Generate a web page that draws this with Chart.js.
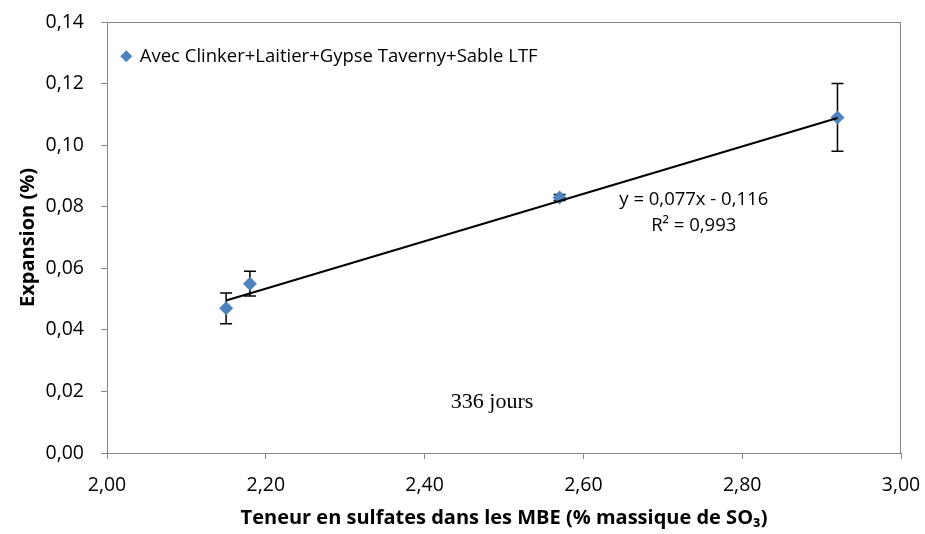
<!DOCTYPE html>
<html>
<head>
<meta charset="utf-8">
<script src="https://cdn.jsdelivr.net/npm/chart.js@4/dist/chart.umd.min.js"></script>
<style>
  html, body { margin: 0; padding: 0; background: #fff; }
  #wrap { width: 925px; height: 534px; }
</style>
</head>
<body>
<div id="wrap"><canvas id="grafico" width="925" height="534"></canvas></div>
<script>
// donnees : teneur en SO3 et expansion a 336 jours
const sulfates = [2.15, 2.18, 2.57, 2.92];
const expansion = [0.047, 0.055, 0.083, 0.109];
const ecart = [0.005, 0.004, 0.001, 0.011];
const serie = 'Avec Clinker+Laitier+Gypse Taverny+Sable LTF';

// droite de tendance
const pente = 0.077;
const ordonnee = -0.116;
const r2 = 0.993;

// axes
const xMin = 2, xMax = 3, xPas = 0.2;
const yMin = 0, yMax = 0.14, yPas = 0.02;

const police = "'Open Sans', sans-serif";
const gris = '#868686';
const bleu = '#4F81BD';

const virgule = (v, n) => v.toFixed(n).replace('.', ',');

const points = sulfates.map((x, i) => ({ x: x, y: expansion[i] }));
const xDeb = Math.min(...sulfates), xFin = Math.max(...sulfates);
const tendance = [xDeb, xFin].map(x => ({ x: x, y: pente * x + ordonnee }));

const equation = 'y = ' + virgule(pente, 3) + 'x ' + (ordonnee < 0 ? '- ' : '+ ') + virgule(Math.abs(ordonnee), 3);
const coefR2 = 'R\u00B2 = ' + virgule(r2, 3);

// cadre + barres d'erreur
const cadre = {
  id: 'cadre',
  beforeDatasetsDraw(chart) {
    const { ctx, chartArea: a, scales } = chart;
    ctx.save();
    ctx.strokeStyle = gris;
    ctx.lineWidth = 1;
    ctx.strokeRect(a.left + 0.5, a.top + 0.5, a.right - a.left - 1, a.bottom - a.top);
    ctx.strokeStyle = '#000';
    ctx.lineWidth = 1.5;
    sulfates.forEach((x, i) => {
      const px = scales.x.getPixelForValue(x);
      const haut = scales.y.getPixelForValue(expansion[i] + ecart[i]);
      const bas = scales.y.getPixelForValue(expansion[i] - ecart[i]);
      ctx.beginPath();
      ctx.moveTo(px, haut); ctx.lineTo(px, bas);
      ctx.moveTo(px - 6, haut); ctx.lineTo(px + 6, haut);
      ctx.moveTo(px - 6, bas); ctx.lineTo(px + 6, bas);
      ctx.stroke();
    });
    ctx.restore();
  },
  afterDraw(chart) {
    const { ctx, scales } = chart;
    ctx.save();
    ctx.fillStyle = '#000';
    ctx.textAlign = 'center';
    ctx.textBaseline = 'middle';
    ctx.font = '18.5px ' + police;
    ctx.fillText(equation, scales.x.getPixelForValue(2.739), scales.y.getPixelForValue(0.0822));
    ctx.fillText(coefR2, scales.x.getPixelForValue(2.739), scales.y.getPixelForValue(0.0737));
    ctx.font = "22px 'Liberation Serif', serif";
    ctx.fillText('336 jours', scales.x.getPixelForValue(2.485), scales.y.getPixelForValue(0.0166));
    ctx.restore();
  }
};

const graph = document.querySelector('#grafico');

new Chart(graph, {
  type: 'scatter',
  data: {
    datasets: [
      {
        label: 'tendance',
        data: tendance,
        showLine: true,
        borderColor: '#000',
        borderWidth: 2,
        pointRadius: 0,
        fill: false
      },
      {
        label: serie,
        data: points,
        pointStyle: 'rectRot',
        pointRadius: 7,
        backgroundColor: bleu,
        borderColor: bleu,
        borderWidth: 0
      }
    ]
  },
  options: {
    responsive: false,
    animation: false,
    events: [],
    layout: { padding: { top: 22, right: 24, left: 0, bottom: 0 } },
    plugins: {
      tooltip: { enabled: false },
      legend: {
        position: 'chartArea',
        align: 'start',
        title: {
          display: true,
          text: ' ',
          font: { family: police, size: 10 },
          padding: { top: 20, bottom: 0 }
        },
        labels: {
          filter: item => item.text === serie,
          usePointStyle: true,
          pointStyle: 'rectRot',
          boxWidth: 8.5,
          boxHeight: 8.5,
          padding: 15,
          color: '#000',
          font: { family: police, size: 18.5 }
        }
      }
    },
    scales: {
      x: {
        type: 'linear',
        min: xMin,
        max: xMax,
        afterFit: s => { s.height = 81; s.paddingLeft = 0; s.paddingRight = 0; },
        border: { color: gris, width: 1 },
        grid: { drawOnChartArea: false, drawTicks: true, tickLength: 6, color: gris },
        ticks: {
          stepSize: xPas,
          maxRotation: 0,
          padding: 15,
          color: '#000',
          font: { family: police, size: 19.5 },
          callback: v => virgule(v, 2)
        },
        title: {
          display: true,
          text: 'Teneur en sulfates dans les MBE (% massique de SO\u2083)',
          color: '#000',
          font: { family: police, size: 20, weight: 'bold' },
          padding: { top: 0, bottom: 4 }
        }
      },
      y: {
        type: 'linear',
        min: yMin,
        max: yMax,
        afterFit: s => { s.width = 107; s.paddingTop = 0; s.paddingBottom = 0; },
        border: { color: gris, width: 1 },
        grid: { drawOnChartArea: false, drawTicks: true, tickLength: 6, color: gris },
        ticks: {
          stepSize: yPas,
          padding: 17,
          color: '#000',
          font: { family: police, size: 19.5 },
          callback: v => virgule(v, 2)
        },
        title: {
          display: true,
          text: 'Expansion (%)',
          color: '#000',
          font: { family: police, size: 20, weight: 'bold' },
          padding: { top: 16, bottom: 0 }
        }
      }
    }
  },
  plugins: [cadre]
});
</script>
</body>
</html>
